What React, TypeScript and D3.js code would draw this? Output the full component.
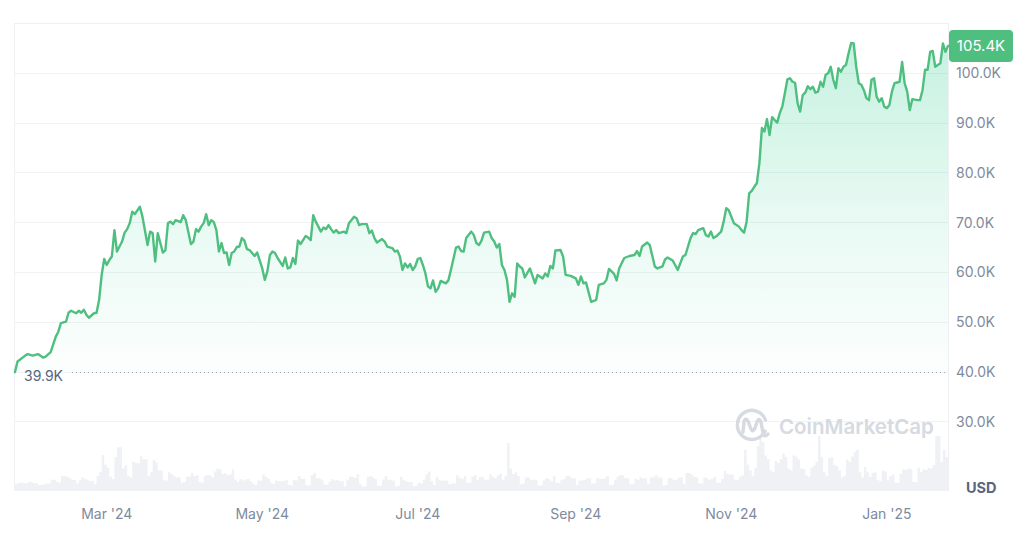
import React from "react";
import * as d3 from "d3";

// ---- Data ----
const dates = [
  // Jan 2024
  "2024-01-25","2024-01-26","2024-01-29","2024-01-30",
  // Feb
  "2024-02-01","2024-02-03","2024-02-05","2024-02-06","2024-02-08","2024-02-10","2024-02-11","2024-02-12","2024-02-14","2024-02-15","2024-02-16","2024-02-18","2024-02-19","2024-02-20","2024-02-21","2024-02-22","2024-02-23","2024-02-25","2024-02-26","2024-02-27","2024-02-28","2024-02-29",
  // Mar
  "2024-03-01","2024-03-02","2024-03-03","2024-03-04","2024-03-05","2024-03-07","2024-03-08","2024-03-09","2024-03-10","2024-03-11","2024-03-12","2024-03-14","2024-03-15","2024-03-17","2024-03-18","2024-03-19","2024-03-20","2024-03-21","2024-03-23","2024-03-24","2024-03-25","2024-03-26","2024-03-27","2024-03-28","2024-03-30","2024-03-31",
  // Apr
  "2024-04-01","2024-04-03","2024-04-04","2024-04-05","2024-04-06","2024-04-07","2024-04-08","2024-04-09","2024-04-10","2024-04-11","2024-04-12","2024-04-13","2024-04-14","2024-04-15","2024-04-16","2024-04-17","2024-04-18","2024-04-19","2024-04-20","2024-04-21","2024-04-22","2024-04-23","2024-04-24","2024-04-25","2024-04-26","2024-04-27","2024-04-28","2024-04-29",
  // May
  "2024-05-01","2024-05-02","2024-05-03","2024-05-04","2024-05-05","2024-05-06","2024-05-07","2024-05-09","2024-05-10","2024-05-11","2024-05-12","2024-05-13","2024-05-14","2024-05-15","2024-05-16","2024-05-18","2024-05-19","2024-05-20","2024-05-21","2024-05-22","2024-05-24","2024-05-25","2024-05-26","2024-05-27","2024-05-28","2024-05-29","2024-05-30","2024-05-31",
  // Jun
  "2024-06-02","2024-06-03","2024-06-04","2024-06-06","2024-06-07","2024-06-08","2024-06-09","2024-06-11","2024-06-12","2024-06-13","2024-06-14","2024-06-15","2024-06-17","2024-06-18","2024-06-19","2024-06-21","2024-06-22","2024-06-23","2024-06-24","2024-06-25","2024-06-26","2024-06-27","2024-06-28","2024-06-29","2024-06-30",
  // Jul
  "2024-07-01","2024-07-02","2024-07-03","2024-07-04","2024-07-05","2024-07-06","2024-07-07","2024-07-08","2024-07-09","2024-07-10","2024-07-12","2024-07-13","2024-07-14","2024-07-16","2024-07-17","2024-07-18","2024-07-19","2024-07-20","2024-07-22","2024-07-23","2024-07-24","2024-07-25","2024-07-26","2024-07-27","2024-07-29","2024-07-30","2024-07-31",
  // Aug
  "2024-08-01","2024-08-02","2024-08-03","2024-08-04","2024-08-05","2024-08-06","2024-08-07","2024-08-08","2024-08-09","2024-08-10","2024-08-11","2024-08-12","2024-08-14","2024-08-16","2024-08-17","2024-08-19","2024-08-20","2024-08-21","2024-08-22","2024-08-23","2024-08-24","2024-08-26","2024-08-27","2024-08-28","2024-08-30",
  // Sep
  "2024-09-01","2024-09-02","2024-09-03","2024-09-04","2024-09-05","2024-09-07","2024-09-09","2024-09-10","2024-09-12","2024-09-13","2024-09-14","2024-09-16","2024-09-17","2024-09-18","2024-09-20","2024-09-22","2024-09-24","2024-09-25","2024-09-26","2024-09-27","2024-09-29","2024-09-30",
  // Oct
  "2024-10-02","2024-10-03","2024-10-05","2024-10-06","2024-10-07","2024-10-09","2024-10-11","2024-10-13","2024-10-14","2024-10-16","2024-10-17","2024-10-18","2024-10-19","2024-10-21","2024-10-22","2024-10-23","2024-10-24","2024-10-25","2024-10-26","2024-10-28","2024-10-29","2024-10-30","2024-10-31",
  // Nov
  "2024-11-02","2024-11-04","2024-11-05","2024-11-06","2024-11-07","2024-11-08","2024-11-09","2024-11-10","2024-11-11","2024-11-12","2024-11-13","2024-11-14","2024-11-15","2024-11-16","2024-11-17","2024-11-18","2024-11-19","2024-11-20","2024-11-21","2024-11-22","2024-11-23","2024-11-24","2024-11-25","2024-11-26","2024-11-27","2024-11-28","2024-11-29","2024-11-30",
  // Dec
  "2024-12-01","2024-12-02","2024-12-03","2024-12-04","2024-12-05","2024-12-06","2024-12-07","2024-12-08","2024-12-09","2024-12-10","2024-12-11","2024-12-12","2024-12-13","2024-12-14","2024-12-15","2024-12-16","2024-12-17","2024-12-18","2024-12-19","2024-12-20","2024-12-21","2024-12-22","2024-12-23","2024-12-24","2024-12-25","2024-12-26","2024-12-27","2024-12-28","2024-12-29","2024-12-30","2024-12-31",
  // Jan 2025
  "2025-01-01","2025-01-02","2025-01-03","2025-01-04","2025-01-06","2025-01-07","2025-01-08","2025-01-09","2025-01-10","2025-01-11","2025-01-13","2025-01-14","2025-01-15","2025-01-16","2025-01-17","2025-01-18","2025-01-19","2025-01-20","2025-01-22","2025-01-23","2025-01-24","2025-01-25",
];

// price in thousands of USD
const prices = [
  39.9, 42.0, 43.2, 43.5,
  43.2, 43.5, 42.8, 43.0, 43.9, 47.0, 48.0, 49.7, 50.0, 51.8, 52.2, 51.7, 52.2, 51.8, 52.4, 51.4, 50.8, 51.7, 51.8, 54.4, 59.4, 62.6,
  61.4, 62.4, 63.1, 68.4, 64.1, 66.1, 67.9, 68.6, 69.8, 72.1, 71.6, 73.1, 71.1, 65.4, 68.1, 67.8, 62.1, 67.8, 63.9, 64.4, 69.8, 70.1, 69.6, 70.4, 70.0, 71.4,
  70.4, 65.6, 66.1, 68.6, 68.1, 69.1, 69.8, 71.6, 69.4, 70.4, 70.0, 68.4, 64.1, 65.8, 63.8, 63.9, 61.4, 63.8, 64.1, 65.0, 65.1, 66.8, 66.3, 64.6, 64.4, 63.8, 63.2, 63.9,
  60.7, 58.4, 60.1, 63.4, 64.1, 63.8, 62.8, 61.2, 62.9, 60.7, 60.9, 62.8, 61.6, 66.3, 65.6, 67.2, 66.9, 66.4, 71.4, 70.1, 68.1, 68.9, 68.6, 69.4, 68.6, 67.9, 68.4, 67.8,
  68.1, 67.8, 69.8, 71.1, 70.8, 69.4, 69.6, 69.6, 67.8, 68.3, 66.8, 65.9, 66.6, 66.1, 65.1, 64.8, 64.1, 64.3, 63.1, 60.4, 61.7, 60.9, 61.6, 60.4, 61.1,
  62.6, 62.8, 61.4, 59.7, 57.1, 56.7, 58.3, 56.0, 56.7, 58.2, 57.7, 58.3, 60.4, 64.9, 65.1, 64.2, 64.1, 66.8, 68.1, 67.4, 65.8, 65.4, 66.3, 67.9, 68.1, 66.8, 66.1,
  64.9, 65.6, 61.4, 60.4, 58.4, 54.0, 55.7, 55.0, 61.7, 61.1, 60.7, 58.9, 60.7, 57.7, 59.4, 58.7, 59.7, 59.1, 61.2, 60.7, 64.3, 64.4, 63.1, 59.4, 59.2,
  58.7, 57.4, 59.1, 57.7, 57.9, 54.0, 54.4, 57.4, 57.7, 58.4, 60.6, 59.6, 58.3, 60.7, 62.8, 63.2, 63.4, 64.2, 63.2, 65.1, 65.9, 65.4,
  61.1, 60.7, 61.1, 62.5, 62.9, 62.3, 60.4, 63.1, 63.4, 66.8, 67.8, 67.6, 68.4, 68.8, 67.4, 67.1, 68.1, 66.8, 67.1, 68.1, 70.1, 72.8, 72.4,
  69.8, 69.1, 68.4, 67.9, 70.1, 75.8, 76.3, 77.1, 77.8, 81.8, 88.9, 88.2, 90.7, 87.5, 91.1, 90.5, 90.0, 91.9, 93.2, 95.9, 98.7, 98.9, 98.2, 98.0, 93.9, 92.2, 95.5, 96.0,
  97.3, 96.7, 97.2, 96.0, 96.2, 98.2, 97.2, 99.6, 99.9, 101.2, 98.6, 96.9, 100.9, 100.2, 101.2, 101.6, 103.9, 106.0, 105.9, 101.2, 97.9, 97.6, 96.5, 94.9, 94.5, 98.6, 98.9, 95.2, 94.2, 94.9, 93.2,
  92.9, 93.5, 96.2, 97.9, 98.2, 102.2, 97.9, 96.2, 92.5, 94.7, 94.5, 94.5, 96.5, 100.6, 100.6, 104.2, 104.4, 101.2, 101.9, 105.9, 104.2, 105.4,
];

// 24h volume in billions of USD
const volumes = [
  18, 22, 20, 24,
  21, 16, 18, 20, 30, 25, 22, 40, 38, 35, 30, 20, 28, 36, 32, 30, 26, 18, 40, 50, 96, 70,
  62, 38, 32, 90, 117, 60, 68, 40, 36, 78, 74, 93, 85, 40, 50, 83, 76, 55, 30, 28, 50, 45, 40, 36, 22, 24,
  38, 48, 40, 42, 25, 22, 40, 43, 42, 36, 52, 60, 58, 45, 48, 42, 44, 58, 30, 25, 32, 28, 30, 32, 26, 20, 16, 28,
  45, 38, 32, 22, 18, 28, 26, 27, 30, 16, 15, 30, 28, 40, 33, 16, 15, 42, 48, 34, 30, 18, 16, 25, 32, 28, 30, 26,
  12, 30, 38, 35, 45, 18, 12, 38, 40, 36, 32, 14, 30, 40, 30, 28, 12, 14, 38, 30, 26, 24, 24, 12, 14,
  22, 20, 30, 45, 52, 26, 16, 38, 30, 28, 28, 18, 20, 42, 36, 32, 40, 22, 38, 42, 30, 38, 36, 30, 45, 38, 35,
  42, 46, 30, 40, 128, 60, 45, 50, 40, 18, 20, 36, 30, 30, 15, 28, 34, 32, 26, 40, 22, 30, 32, 40, 34,
  16, 28, 28, 30, 34, 20, 35, 32, 34, 40, 16, 30, 38, 42, 34, 18, 32, 30, 36, 34, 18, 36,
  42, 36, 14, 16, 34, 30, 36, 18, 48, 44, 38, 36, 20, 36, 34, 30, 32, 38, 22, 32, 54, 46, 44,
  30, 38, 42, 110, 70, 55, 40, 62, 120, 140, 130, 95, 85, 55, 50, 80, 75, 85, 100, 90, 60, 55, 95, 92, 85, 60, 58, 42,
  38, 62, 68, 78, 147, 90, 50, 40, 88, 90, 70, 66, 55, 36, 40, 84, 78, 92, 105, 110, 50, 36, 64, 50, 38, 48, 50, 30, 26, 55, 52,
  30, 40, 44, 22, 46, 58, 56, 60, 58, 24, 62, 50, 58, 56, 62, 60, 70, 147, 78, 110, 90, 118,
];

const yTicks = [30, 40, 50, 60, 70, 80, 90, 100];
const xTickDates = ["2024-03-01", "2024-05-01", "2024-07-01", "2024-09-01", "2024-11-01", "2025-01-01"];
const xTickLabels = ["Mar '24", "May '24", "Jul '24", "Sep '24", "Nov '24", "Jan '25"];
const domainStart = "2024-01-25";
const domainEnd = "2025-01-25";
const currency = "USD";
const watermark = "CoinMarketCap";

const W = 1024;
const H = 543;
const GREEN = "#4fbf80";
const FONT = "Inter, 'Noto Sans', sans-serif";

export default function App() {
  const parse = d3.timeParse("%Y-%m-%d");
  const n = Math.min(dates.length, prices.length);
  const pts = d3.range(n).map((i) => ({ d: parse(dates[i]) as Date, v: prices[i] }));
  const vn = Math.min(dates.length, volumes.length);
  const vpts = d3.range(vn).map((i) => ({ d: parse(dates[i]) as Date, v: volumes[i] }));

  const left = 15, right = 948, top = 23, bottom = 491;
  const x = d3.scaleTime().domain([parse(domainStart) as Date, parse(domainEnd) as Date]).range([left, right]);
  const y = d3.scaleLinear().domain([16, 110]).range([bottom, top]);
  const yv = d3.scaleLinear().domain([0, 160]).range([bottom, bottom - 60]);

  const first = pts[0];
  const last = pts[pts.length - 1];
  const baseY = y(first.v);

  const line = d3.line<any>().x((p) => x(p.d)).y((p) => y(p.v)).curve(d3.curveLinear);
  const area = d3.area<any>().x((p) => x(p.d)).y0(baseY).y1((p) => y(p.v)).curve(d3.curveLinear);
  const varea = d3.area<any>().x((p) => x(p.d)).y0(bottom).y1((p) => yv(p.v)).curve(d3.curveStepAfter);

  const fmt = (v: number) => `${v.toFixed(1)}K`;

  return (
    <div style={{ position: "absolute", left: 0, top: 0, width: W, height: H, background: "#fff" }}>
      <svg width={W} height={H} style={{ display: "block", fontFamily: FONT }}>
        <defs>
          <linearGradient id="pf" x1="0" y1={top} x2="0" y2={baseY} gradientUnits="userSpaceOnUse">
            <stop offset="0" stopColor="#16c784" stopOpacity={0.26} />
            <stop offset="0.55" stopColor="#16c784" stopOpacity={0.1} />
            <stop offset="1" stopColor="#16c784" stopOpacity={0.015} />
          </linearGradient>
        </defs>

        {/* frame */}
        <line x1={left - 0.5} x2={right + 0.5} y1={top + 0.5} y2={top + 0.5} stroke="#eef0f3" />
        <line x1={left - 0.5} x2={left - 0.5} y1={top} y2={bottom} stroke="#eef0f3" />
        <line x1={right + 0.5} x2={right + 0.5} y1={top} y2={bottom} stroke="#eef0f3" />

        {/* grid */}
        {yTicks.map((t) => (
          <line key={t} x1={left} x2={right} y1={Math.round(y(t)) + 0.5} y2={Math.round(y(t)) + 0.5} stroke="#f1f2f5" />
        ))}

        {/* volume */}
        <path d={varea(vpts) || ""} fill="#eff1f5" />

        {/* watermark */}
        <g opacity={0.9}>
          <g transform="translate(752,425)" fill="none" stroke="#d2d6de" strokeWidth={3.4} strokeLinecap="round" strokeLinejoin="round">
            <path d="M 13 6 A 14.5 14.5 0 1 1 13.5 -5" />
            <path d="M -9 7 L -8 -3 Q -7 -8 -4 -4 L -1 4 Q 1 8 3 3 L 5 -3 Q 7 -8 9 -3 L 11 8 Q 12 13 16 9" />
          </g>
          <text x={779} y={426} dominantBaseline="central" fontSize={20.5} fontWeight={600} fill="#d2d6de">
            {watermark}
          </text>
        </g>

        {/* price area + line */}
        <path d={area(pts) || ""} fill="url(#pf)" />
        <path d={line(pts) || ""} fill="none" stroke={GREEN} strokeWidth={2.4} strokeLinejoin="round" strokeLinecap="round" />

        {/* start reference */}
        <line x1={72} x2={right} y1={Math.round(baseY) + 0.5} y2={Math.round(baseY) + 0.5} stroke="#a3abb9" strokeDasharray="1 3" />
        <text x={24} y={baseY + 3} dominantBaseline="central" fontSize={14} fill="#58667e">
          {fmt(first.v)}
        </text>

        {/* y labels */}
        {yTicks.map((t) => (
          <text key={t} x={956} y={y(t)} dominantBaseline="central" fontSize={14} fill="#808a9d">
            {fmt(t)}
          </text>
        ))}

        {/* last value badge */}
        <rect x={949} y={y(last.v) - 16} width={64} height={32} rx={4} fill={GREEN} />
        <text x={981} y={y(last.v)} textAnchor="middle" dominantBaseline="central" fontSize={15} fill="#fff">
          {fmt(last.v)}
        </text>

        {/* currency */}
        <text x={966} y={487} dominantBaseline="central" fontSize={14.5} fontWeight={700} fill="#58667e">
          {currency}
        </text>

        {/* x labels */}
        {xTickDates.map((d, i) => (
          <text key={d} x={x(parse(d) as Date)} y={513} textAnchor="middle" dominantBaseline="central" fontSize={14} fill="#808a9d">
            {xTickLabels[i]}
          </text>
        ))}
      </svg>
    </div>
  );
}
